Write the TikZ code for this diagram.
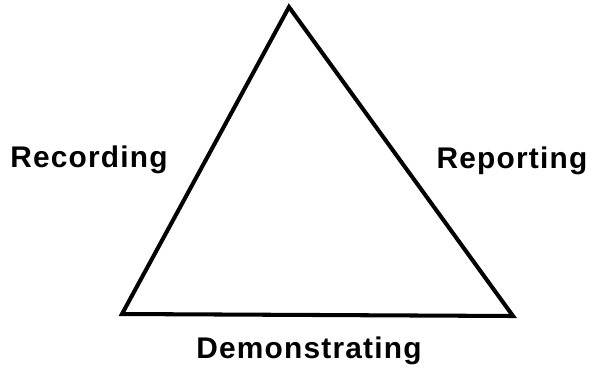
\documentclass[tikz,border=0pt]{standalone}
\usepackage{fontspec}
\setmainfont{Liberation Sans}[LetterSpace=4]
\usetikzlibrary{positioning,calc}
\tikzset{
  side/.style={line width=2.3pt,line join=miter,line cap=butt},
  lab/.style={font=\bfseries\fontsize{17}{20}\selectfont,inner sep=0pt,anchor=base},
}

\begin{document}
\begin{tikzpicture}[x=0.02cm,y=-0.02cm]
\useasboundingbox (0,0) rectangle (593,370);

\coordinate (top) at (289,7);
\coordinate (left) at (122,314);
\coordinate (right) at (513,316);

\node[lab] (rec) at (89,167) {Recording};
\node[lab] (rep) at (512,168) {Reporting};
\node[lab] (dem) at (309,358) {Demonstrating};

\draw[side] (top) -- (left) -- (right) -- cycle;
\end{tikzpicture}
\end{document}
